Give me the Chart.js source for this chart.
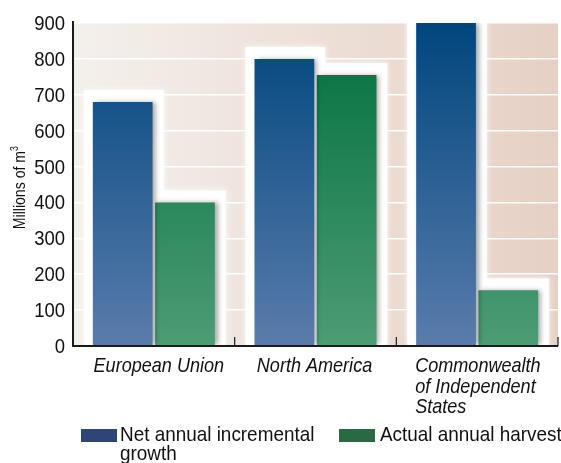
<!DOCTYPE html>
<html>
<head>
<meta charset="utf-8">
<script src="https://cdn.jsdelivr.net/npm/chart.js@4"></script>
<style>
  html, body { margin: 0; padding: 0; background: #fff; }
  #wrap { width: 561px; height: 463px; position: relative; }
</style>
</head>
<body>
<div id="wrap"><canvas id="myChart" width="561" height="463"></canvas></div>
<script>
// data
let regions = [["European Union"], ["North America"], ["Commonwealth", "of Independent", "States"]];
let seriesNames = [["Net annual incremental", "growth"], ["Actual annual harvest"]];
let netGrowth = [680, 800, 900];
let harvest = [400, 755, 155];
let yTicks = [0, 100, 200, 300, 400, 500, 600, 700, 800, 900];

const FONT = "'Liberation Sans', Arial, sans-serif";
const SQUEEZE = 0.86;
const labelShift = [5, -1, -62];
const blueTop = "#00467e", blueBot = "#5a7cab";
const greenTop = "#006f3e", greenBot = "#4d9c75";

function grad(ctx, area, top, bot) {
  if (!area) return top;
  let g = ctx.createLinearGradient(0, area.top, 0, area.bottom);
  g.addColorStop(0, top);
  g.addColorStop(1, bot);
  return g;
}

// condensed text: squeeze horizontally around the anchor
function say(ctx, text, x, y, align, font, sq) {
  ctx.save();
  ctx.font = font;
  ctx.textAlign = align;
  ctx.translate(x, y);
  ctx.scale(sq || SQUEEZE, 1);
  ctx.fillText(text, 0, 0);
  ctx.restore();
}

const backdrop = {
  id: "backdrop",
  beforeDraw(chart) {
    const { ctx, chartArea: a } = chart;
    let g = ctx.createLinearGradient(a.left, 0, a.right, 0);
    g.addColorStop(0, "#f4f0ec");
    g.addColorStop(1, "#e6d0c4");
    ctx.save();
    ctx.fillStyle = g;
    ctx.fillRect(a.left, a.top, a.right - a.left, a.bottom - a.top);
    ctx.restore();
  },
  beforeDatasetsDraw(chart) {
    const { ctx, chartArea: a } = chart;
    ctx.save();
    ctx.fillStyle = "rgba(255,255,255,0.95)";
    ctx.shadowColor = "rgba(255,255,255,0.9)";
    ctx.shadowBlur = 6;
    chart.data.datasets.forEach((ds, i) => {
      chart.getDatasetMeta(i).data.forEach(bar => {
        let left = bar.x - bar.width / 2 - 9;
        let right = bar.x + bar.width / 2 + 11;
        let top = Math.max(bar.y - 12, a.top - 6);
        ctx.fillRect(left, top, right - left, a.bottom - top);
      });
    });
    ctx.restore();
    ctx.save();
    ctx.shadowColor = "rgba(0,0,0,0.35)";
    ctx.shadowBlur = 5;
    ctx.shadowOffsetX = 3;
  },
  afterDatasetsDraw(chart) {
    const { ctx, chartArea: a, scales } = chart;
    ctx.restore();
    ctx.save();
    // axes
    ctx.strokeStyle = "#1a1a1a";
    ctx.lineWidth = 2;
    ctx.beginPath();
    ctx.moveTo(a.left, a.top - 2);
    ctx.lineTo(a.left, a.bottom);
    ctx.lineTo(a.right, a.bottom);
    ctx.stroke();
    ctx.lineWidth = 1.2;
    for (let i = 1; i <= regions.length; i++) {
      let x = a.left + (a.right - a.left) * i / regions.length;
      ctx.beginPath();
      ctx.moveTo(x, a.bottom);
      ctx.lineTo(x, a.bottom - 9);
      ctx.stroke();
    }
    ctx.fillStyle = "#111";
    ctx.textBaseline = "alphabetic";
    // y tick labels
    yTicks.forEach(v => {
      say(ctx, v, a.left - 8, scales.y.getPixelForValue(v) + 7, "right", "21px " + FONT, 0.88);
    });
    // y title
    ctx.save();
    ctx.translate(25, 187);
    ctx.rotate(-Math.PI / 2);
    ctx.font = "16px " + FONT;
    ctx.scale(0.88, 1);
    let w = ctx.measureText("Millions of m").width;
    ctx.textAlign = "left";
    ctx.fillText("Millions of m", -(w + 7) / 2, 0);
    ctx.font = "10px " + FONT;
    ctx.fillText("3", (w - 7) / 2, -7);
    ctx.restore();
    // category labels
    regions.forEach((lines, i) => {
      let cx = scales.x.getPixelForValue(i) + labelShift[i];
      lines.forEach((t, j) => say(ctx, t, cx, a.bottom + 26 + j * 20.5,
        lines.length === 1 ? "center" : "left", "italic 21px " + FONT));
    });
    // legend
    const sw = [["#2f4575", 81, 120], ["#2a6a43", 339, 380]];
    seriesNames.forEach((lines, i) => {
      ctx.fillStyle = sw[i][0];
      ctx.fillRect(sw[i][1], 429, 36, 13);
      ctx.fillStyle = "#111";
      lines.forEach((t, j) => say(ctx, t, sw[i][2], 441 + j * 19, "left", "21px " + FONT, 0.9));
    });
    ctx.restore();
  }
};

const ctx = document.getElementById("myChart");

new Chart(ctx, {
  type: "bar",
  data: {
    labels: regions,
    datasets: [
      {
        label: seriesNames[0].join(" "),
        data: netGrowth,
        backgroundColor: c => grad(c.chart.ctx, c.chart.chartArea, blueTop, blueBot),
        borderWidth: 0
      },
      {
        label: seriesNames[1].join(" "),
        data: harvest,
        backgroundColor: c => grad(c.chart.ctx, c.chart.chartArea, greenTop, greenBot),
        borderWidth: 0
      }
    ]
  },
  options: {
    responsive: false,
    animation: false,
    layout: { padding: { top: 23, right: 3 } },
    plugins: { legend: { display: false }, tooltip: { enabled: false } },
    datasets: { bar: { categoryPercentage: 0.77, barPercentage: 0.96 } },
    scales: {
      x: {
        grid: { display: false },
        border: { display: false },
        ticks: { display: false },
        afterFit(s) { s.height = 117; }
      },
      y: {
        min: 0,
        max: 900,
        afterBuildTicks(s) { s.ticks = yTicks.map(v => ({ value: v })); },
        afterFit(s) { s.width = 73; },
        border: { display: false },
        grid: { color: "rgba(255,255,255,0.95)", lineWidth: 1.5, drawTicks: false },
        ticks: { display: false }
      }
    }
  },
  plugins: [backdrop]
});
</script>
</body>
</html>
